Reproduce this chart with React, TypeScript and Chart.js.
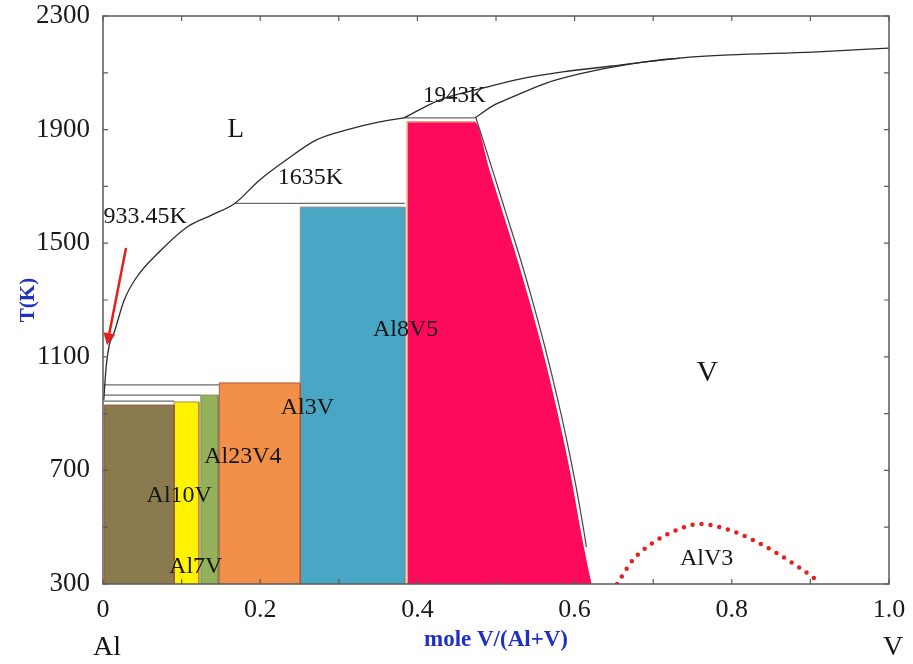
import React, { useEffect, useRef } from 'react';
import { Chart, registerables } from 'chart.js';
Chart.register(...registerables);

// ---------- axis ticks ----------
const xTicks = [0, 0.1, 0.2, 0.3, 0.4, 0.5, 0.6, 0.7, 0.8, 0.9, 1.0];
const xTickLabels = ['0', '', '0.2', '', '0.4', '', '0.6', '', '0.8', '', '1.0'];
const yTicks = [300, 500, 700, 900, 1100, 1300, 1500, 1700, 1900, 2100, 2300];
const yTickLabels = ['300', '', '700', '', '1100', '', '1500', '', '1900', '', '2300'];

// ---------- single-phase compound regions: [x left, x right, top T(K)] ----------
const fccAlRegion = [0.002, 0.0905, 930];
const al10VRegion = [0.0905, 0.122, 941];
const al7VRegion = [0.1245, 0.1465, 965];
const al23V4Region = [0.148, 0.251, 1008];
const al3VRegion = [0.251, 0.384, 1627];

// Al8V5 region: left edge, top, then right boundary (x, T)
const al8V5Left = 0.387;
const al8V5Top = 1928;
const al8V5EdgeX = [0.4726, 0.4917, 0.5096, 0.5274, 0.5439, 0.5592, 0.5732, 0.5860, 0.5975, 0.6076, 0.6191, 0.6217];
const al8V5EdgeT = [1928, 1758, 1599, 1441, 1282, 1124, 965, 807, 648, 490, 332, 300];

// ---------- phase boundary curves (x, T) ----------
const liqAlX = [0.001, 0.004, 0.008, 0.014, 0.027, 0.043, 0.074, 0.107, 0.138, 0.168, 0.199, 0.233, 0.271, 0.310, 0.352, 0.383];
const liqAlT = [948, 1064, 1141, 1184, 1300, 1381, 1476, 1557, 1599, 1641, 1722, 1793, 1863, 1899, 1927, 1941];
const liqVX = [0.383, 0.428, 0.483, 0.530, 0.585, 0.648, 0.734, 0.797, 0.903, 1.0];
const liqVT = [1941, 2004, 2046, 2078, 2103, 2124, 2152, 2163, 2173, 2187];
const solVX = [0.473, 0.498, 0.521, 0.564, 0.606, 0.648, 0.696, 0.734];
const solVT = [1941, 1987, 2015, 2064, 2096, 2120, 2141, 2152];
const solvusVX = [0.4745, 0.4955, 0.5135, 0.5314, 0.5479, 0.5632, 0.5772, 0.5900, 0.6015, 0.6116, 0.6150];
const solvusVT = [1941, 1758, 1599, 1441, 1282, 1124, 965, 807, 648, 490, 430];
const alV3X = [0.654, 0.674, 0.699, 0.730, 0.759, 0.789, 0.827, 0.857, 0.887, 0.913];
const alV3T = [300, 384, 444, 490, 511, 497, 455, 409, 356, 304];

// invariant horizontal lines: [x start, x end, T]
const isoLines = [
  [0.168, 0.384, 1640],
  [0.383, 0.473, 1941],
  [0.001, 0.148, 1001],
  [0.001, 0.1245, 965],
  [0.001, 0.0905, 944],
];

// ---------- labels ----------
const labelTexts = ['L', '1635K', '933.45K', '1943K', 'V', 'AlV3', 'Al8V5', 'Al3V', 'Al23V4', 'Al10V', 'Al7V'];
const labelX = [0.169, 0.264, 0.0535, 0.447, 0.769, 0.768, 0.385, 0.260, 0.178, 0.097, 0.118];
const labelT = [1899, 1730, 1592, 2018, 1043, 388, 1194, 920, 747, 610, 360];
const labelSize = [27, 24, 24, 23, 30, 24, 24, 24, 24, 24, 24];
const arrowFrom = [0.0293, 1483];
const arrowTo = [0.0051, 1141];
const endLabels = ['Al', 'V'];
const endLabelX = [0, 1.0];

const pts = (xs: number[], ts: number[]) => xs.map((x, i) => ({ x, y: ts[i] }));
const rect = (r: number[]) => [
  { x: r[0], y: yTicks[0] }, { x: r[0], y: r[2] }, { x: r[1], y: r[2] }, { x: r[1], y: yTicks[0] },
];

const SERIF = '"Liberation Serif", "Times New Roman", serif';

const overlayPlugin = {
  id: 'overlay',
  afterDatasetsDraw(chart: any) {
    const { ctx, chartArea: a, scales } = chart;
    const xs = scales.x, ys = scales.y;
    ctx.save();
    // frame
    ctx.strokeStyle = '#5a5a5a';
    ctx.lineWidth = 1.5;
    ctx.strokeRect(a.left, a.top, a.right - a.left, a.bottom - a.top);
    // inward ticks
    ctx.lineWidth = 1.2;
    ctx.beginPath();
    xTicks.forEach((v) => {
      const px = xs.getPixelForValue(v);
      ctx.moveTo(px, a.bottom); ctx.lineTo(px, a.bottom - 5);
      ctx.moveTo(px, a.top); ctx.lineTo(px, a.top + 5);
    });
    yTicks.forEach((v) => {
      const py = ys.getPixelForValue(v);
      ctx.moveTo(a.left, py); ctx.lineTo(a.left + 5, py);
      ctx.moveTo(a.right, py); ctx.lineTo(a.right - 5, py);
    });
    ctx.stroke();
    // region labels
    ctx.fillStyle = '#151515';
    ctx.textAlign = 'center';
    ctx.textBaseline = 'middle';
    labelTexts.forEach((t, i) => {
      ctx.font = `${labelSize[i]}px ${SERIF}`;
      ctx.fillText(t, xs.getPixelForValue(labelX[i]), ys.getPixelForValue(labelT[i]));
    });
    // arrow
    const x0 = xs.getPixelForValue(arrowFrom[0]), y0 = ys.getPixelForValue(arrowFrom[1]);
    const x1 = xs.getPixelForValue(arrowTo[0]), y1 = ys.getPixelForValue(arrowTo[1]);
    const ang = Math.atan2(y1 - y0, x1 - x0);
    ctx.strokeStyle = '#e4201c';
    ctx.fillStyle = '#e4201c';
    ctx.lineWidth = 2.5;
    ctx.beginPath();
    ctx.moveTo(x0, y0);
    ctx.lineTo(x1 - 8 * Math.cos(ang), y1 - 8 * Math.sin(ang));
    ctx.stroke();
    ctx.beginPath();
    ctx.moveTo(x1, y1);
    ctx.lineTo(x1 - 12 * Math.cos(ang) + 6 * Math.sin(ang), y1 - 12 * Math.sin(ang) - 6 * Math.cos(ang));
    ctx.lineTo(x1 - 12 * Math.cos(ang) - 6 * Math.sin(ang), y1 - 12 * Math.sin(ang) + 6 * Math.cos(ang));
    ctx.closePath();
    ctx.fill();
    // end-member labels below axis
    ctx.fillStyle = '#151515';
    ctx.font = `28px ${SERIF}`;
    endLabels.forEach((t, i) => {
      ctx.fillText(t, xs.getPixelForValue(endLabelX[i]) + 4, a.bottom + 64);
    });
    ctx.restore();
  },
};

export default function App() {
  const ref = useRef<HTMLCanvasElement>(null);
  useEffect(() => {
    if (!ref.current) return;
    const lineDs = (data: any[], extra: any = {}) => ({
      data, borderColor: '#2b2b2b', borderWidth: 1.3, pointRadius: 0, fill: false, order: 0, ...extra,
    });
    const fillDs = (data: any[], color: string, border: string, extra: any = {}) => ({
      data, backgroundColor: color, borderColor: border, borderWidth: 1, pointRadius: 0, fill: 'start', order: 5, tension: 0, ...extra,
    });
    const pinkPoly = [{ x: al8V5Left, y: al8V5Top }, ...pts(al8V5EdgeX, al8V5EdgeT)];
    const chart = new Chart(ref.current, {
      type: 'line',
      data: {
        datasets: [
          fillDs(rect(fccAlRegion), '#8a7b4e', '#9a5a44'),
          fillDs(rect(al10VRegion), '#fff300', '#b08a40'),
          fillDs(rect(al7VRegion), '#93b15b', '#80864a'),
          fillDs(rect(al23V4Region), '#f28f48', '#b6563a'),
          fillDs(rect(al3VRegion), '#49a7c5', '#7d8890'),
          fillDs(pinkPoly, '#fd0a5c', 'rgba(0,0,0,0)', { cubicInterpolationMode: 'monotone' }),
          lineDs([{ x: al8V5Left, y: yTicks[0] }, { x: al8V5Left, y: al8V5Top }, { x: al8V5EdgeX[0], y: al8V5Top }], { borderColor: '#e6a878', borderWidth: 1.5, order: 1 }),
          lineDs(pts(liqAlX, liqAlT), { cubicInterpolationMode: 'monotone' }),
          lineDs(pts(liqVX, liqVT), { cubicInterpolationMode: 'monotone' }),
          lineDs(pts(solVX, solVT), { cubicInterpolationMode: 'monotone' }),
          lineDs(pts(solvusVX, solvusVT), { borderColor: '#444', borderWidth: 1.2, cubicInterpolationMode: 'monotone' }),
          ...isoLines.map((l) => lineDs([{ x: l[0], y: l[2] }, { x: l[1], y: l[2] }], { borderColor: '#6a6a6a', borderWidth: 1.2 })),
          lineDs(pts(alV3X, alV3T), {
            borderColor: '#e3221f', borderWidth: 4.5, borderDash: [0, 9], borderCapStyle: 'round',
            cubicInterpolationMode: 'monotone',
          }),
        ],
      },
      options: {
        animation: false,
        responsive: false,
        layout: { padding: { left: 0, right: 24, top: 16, bottom: 0 } },
        plugins: { legend: { display: false }, tooltip: { enabled: false } },
        elements: { point: { radius: 0 } },
        scales: {
          x: {
            type: 'linear', min: 0, max: 1,
            afterBuildTicks: (s: any) => { s.ticks = xTicks.map((v) => ({ value: v })); },
            afterFit: (s: any) => { s.height = 80; s.paddingLeft = 0; s.paddingRight = 0; },
            grid: { display: false, drawTicks: false },
            border: { display: false },
            ticks: {
              padding: 11, maxRotation: 0, autoSkip: false, color: '#1a1a1a',
              font: { family: SERIF, size: 26 },
              callback: (v: any) => xTickLabels[xTicks.findIndex((t) => Math.abs(t - v) < 1e-6)] ?? '',
            },
            title: {
              display: true, text: 'mole V/(Al+V)', color: '#2030c0',
              font: { family: SERIF, size: 23, weight: 'bold' }, padding: { top: 0, bottom: 10 },
            },
          },
          y: {
            type: 'linear', min: 300, max: 2300,
            afterBuildTicks: (s: any) => { s.ticks = yTicks.map((v) => ({ value: v })); },
            afterFit: (s: any) => { s.width = 103; s.paddingTop = 0; s.paddingBottom = 0; },
            grid: { display: false, drawTicks: false },
            border: { display: false },
            ticks: {
              padding: 13, autoSkip: false, color: '#1a1a1a',
              font: { family: SERIF, size: 27 },
              callback: (v: any) => yTickLabels[yTicks.indexOf(v)] ?? '',
            },
            title: {
              display: true, text: 'T(K)', color: '#2030c0',
              font: { family: SERIF, size: 21, weight: 'bold' }, padding: { top: 16, bottom: 0 },
            },
          },
        },
      } as any,
      plugins: [overlayPlugin],
    });
    return () => chart.destroy();
  }, []);
  return (
    <div style={{ position: 'absolute', left: 0, top: 0, width: 913, height: 664, background: '#fff' }}>
      <canvas ref={ref} width={913} height={664} />
    </div>
  );
}
